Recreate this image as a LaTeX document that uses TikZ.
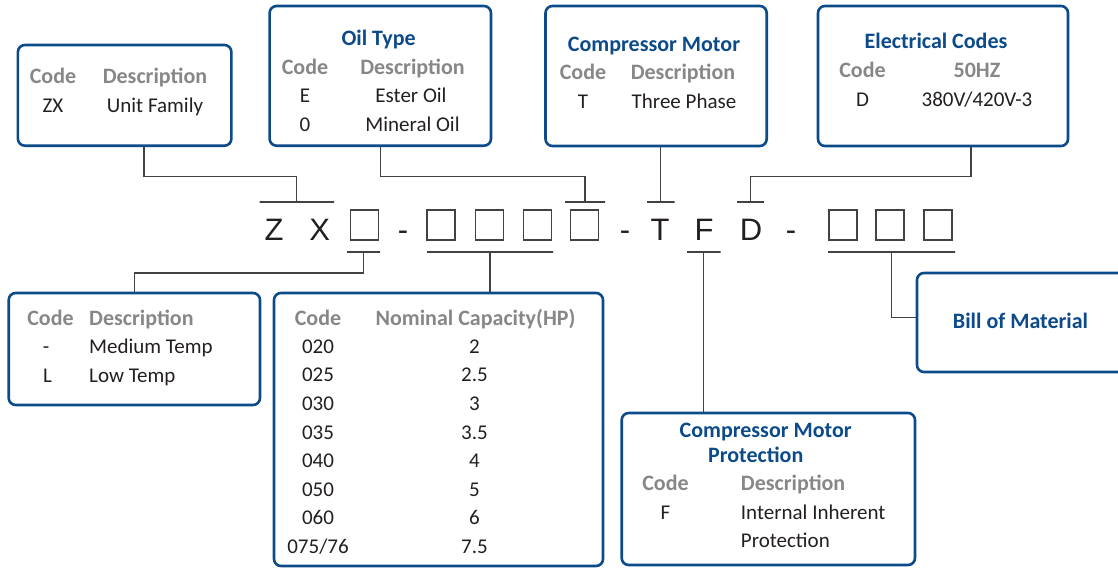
\documentclass[tikz,border=0pt]{standalone}
\usepackage{fontspec}
\setmainfont{Carlito}
\newfontfamily\codefont{Liberation Sans}
\definecolor{boxblue}{RGB}{12,74,138}
\definecolor{headgray}{RGB}{135,135,135}
\definecolor{ink}{RGB}{35,31,32}
\begin{document}
\begin{tikzpicture}[x=1pt,y=-1pt,
	panel/.style={draw=boxblue,line width=2.6pt,rounded corners=7pt,inner sep=0pt},
	title/.style={anchor=base,font=\bfseries\fontsize{22}{24}\selectfont,text=boxblue,inner sep=0pt},
	head/.style={anchor=base,font=\bfseries\fontsize{22}{24}\selectfont,text=headgray,inner sep=0pt},
	txt/.style={anchor=base,font=\fontsize{21}{24}\selectfont,text=ink,inner sep=0pt},
	letter/.style={anchor=base,font=\codefont\fontsize{31}{34}\selectfont,text=ink,inner sep=0pt},
	slot/.style={draw=ink!85,line width=1.3pt,minimum width=28pt,minimum height=30pt,inner sep=0pt},
	bar/.style={draw=ink!85,line width=1.3pt,minimum height=0pt,inner sep=0pt,outer sep=0pt},
	wire/.style={draw=ink!85,line width=1.3pt}]
	\useasboundingbox (0,0) rectangle (1118,568);
	\node[panel,minimum width=213.5pt,minimum height=100.7pt] (fam) at (124.65,95.35) {};
	\node[panel,minimum width=221.4pt,minimum height=139.7pt] (oil) at (380.3,75.85) {};
	\node[panel,minimum width=221.2pt,minimum height=140pt] (mot) at (656.1,76) {};
	\node[panel,minimum width=250pt,minimum height=140pt] (elec) at (943,76) {};
	\node[panel,minimum width=251.3pt,minimum height=112pt] (temp) at (134.35,349) {};
	\node[panel,minimum width=329pt,minimum height=273pt] (cap) at (438.5,429.5) {};
	\node[panel,minimum width=293.3pt,minimum height=152pt] (prot) at (768.35,489) {};
	\node[panel,minimum width=208pt,minimum height=99pt] (bom) at (1021,322.5) {};

	\node[head] (fam-c) at (53,83) {Code};
	\node[head] (fam-d) at (155,83) {Description};
	\node[txt] (fam-c1) at (53,112) {ZX};
	\node[txt] (fam-d1) at (155,112) {Unit Family};

	\node[title] (oil-t) at (378.6,45) {Oil Type};
	\node[head] (oil-c) at (305,74) {Code};
	\node[head] (oil-d) at (412.5,74) {Description};
	\node[txt] (oil-c1) at (305,102.5) {E};
	\node[txt] (oil-d1) at (411,102.5) {Ester Oil};
	\node[txt] (oil-c2) at (305,131) {0};
	\node[txt] (oil-d2) at (412.5,131) {Mineral Oil};

	\node[title] (mot-t) at (654,51) {Compressor Motor};
	\node[head] (mot-c) at (583,79) {Code};
	\node[head] (mot-d) at (683,79) {Description};
	\node[txt] (mot-c1) at (583,108) {T};
	\node[txt] (mot-d1) at (684,108) {Three Phase};

	\node[title] (elec-t) at (936,48) {Electrical Codes};
	\node[head] (elec-c) at (862.5,77.5) {Code};
	\node[head] (elec-d) at (977,77.5) {50HZ};
	\node[txt] (elec-c1) at (862.5,106.5) {D};
	\node[txt] (elec-d1) at (977,106.5) {380V/420V-3};

	\node[head] (temp-c) at (50.5,325) {Code};
	\node[head,anchor=base west] (temp-d) at (89,325) {Description};
	\node[txt] (temp-c1) at (46,353.3) {-};
	\node[txt,anchor=base west] (temp-d1) at (89,353.3) {Medium Temp};
	\node[txt] (temp-c2) at (47.5,382.3) {L};
	\node[txt,anchor=base west] (temp-d2) at (89,382.3) {Low Temp};

	\node[head] (cap-c) at (318,325) {Code};
	\node[head] (cap-d) at (475.5,325) {Nominal Capacity(HP)};
	\node[txt] (cap-c1) at (318,353.3) {020};
	\node[txt] (cap-d1) at (474.5,353.3) {2};
	\node[txt] (cap-c2) at (318,381.9) {025};
	\node[txt] (cap-d2) at (474.5,381.9) {2.5};
	\node[txt] (cap-c3) at (318,410.4) {030};
	\node[txt] (cap-d3) at (474.5,410.4) {3};
	\node[txt] (cap-c4) at (318,439) {035};
	\node[txt] (cap-d4) at (474.5,439) {3.5};
	\node[txt] (cap-c5) at (318,467.6) {040};
	\node[txt] (cap-d5) at (474.5,467.6) {4};
	\node[txt] (cap-c6) at (318,496.2) {050};
	\node[txt] (cap-d6) at (474.5,496.2) {5};
	\node[txt] (cap-c7) at (318,524.7) {060};
	\node[txt] (cap-d7) at (474.5,524.7) {6};
	\node[txt] (cap-c8) at (318,553.3) {075/76};
	\node[txt] (cap-d8) at (474.5,553.3) {7.5};

	\node[title] (prot-t1) at (765.7,437.3) {Compressor Motor};
	\node[title] (prot-t2) at (755.7,462.3) {Protection};
	\node[head] (prot-c) at (665.5,490.7) {Code};
	\node[head,anchor=base west] (prot-d) at (740.7,490.7) {Description};
	\node[txt] (prot-c1) at (665.5,519.3) {F};
	\node[txt,anchor=base west] (prot-d1) at (740.7,519.3) {Internal Inherent};
	\node[txt,anchor=base west] (prot-d2) at (740.7,547.7) {Protection};

	\node[title] (bom-t) at (1020.5,328.3) {Bill of Material};

	\node[letter] (z) at (274,240) {Z};
	\node[letter] (x) at (319.6,240) {X};
	\node[letter] (h1) at (403,240) {-};
	\node[letter] (h2) at (625,240) {-};
	\node[letter] (t) at (660,240) {T};
	\node[letter] (f) at (704,240) {F};
	\node[letter] (d) at (751,240) {D};
	\node[letter] (h3) at (791,240) {-};
	\node[slot] (b1) at (364.3,225) {};
	\node[slot] (b2) at (441,225) {};
	\node[slot] (b3) at (489.3,225) {};
	\node[slot] (b4) at (537.3,225) {};
	\node[slot] (b5) at (584.6,225) {};
	\node[slot] (b6) at (843,225) {};
	\node[slot] (b7) at (890,225) {};
	\node[slot] (b8) at (938,225) {};

	\node[bar,minimum width=74.4pt] (tzx) at (296.8,202) {};
	\node[bar,minimum width=40pt] (toil) at (585,202) {};
	\node[bar,minimum width=27.5pt] (tmot) at (660.75,202) {};
	\node[bar,minimum width=27pt] (telec) at (750.5,202) {};
	\node[bar,minimum width=33pt] (btemp) at (363.5,252) {};
	\node[bar,minimum width=126pt] (bcap) at (490,252) {};
	\node[bar,minimum width=33.6pt] (bprot) at (703.8,252) {};
	\node[bar,minimum width=127pt] (bbom) at (891.5,252) {};

	\draw[wire] ([xshift=19.35pt]fam.south) -- ++(0,29.3) -| (tzx);
	\draw[wire] (oil.south) -- ++(0,29.3) -| (toil);
	\draw[wire] (mot.south -| tmot) -- (tmot);
	\draw[wire] ([xshift=28pt]elec.south) -- ++(0,29) -| (telec);
	\draw[wire] (btemp) -- ++(0,21) -| (temp.north);
	\draw[wire] (bcap) -- (bcap |- cap.north);
	\draw[wire] (bprot) -- (bprot |- prot.north);
	\draw[wire] (bbom) |- ([yshift=5pt]bom.west);
\end{tikzpicture}
\end{document}
